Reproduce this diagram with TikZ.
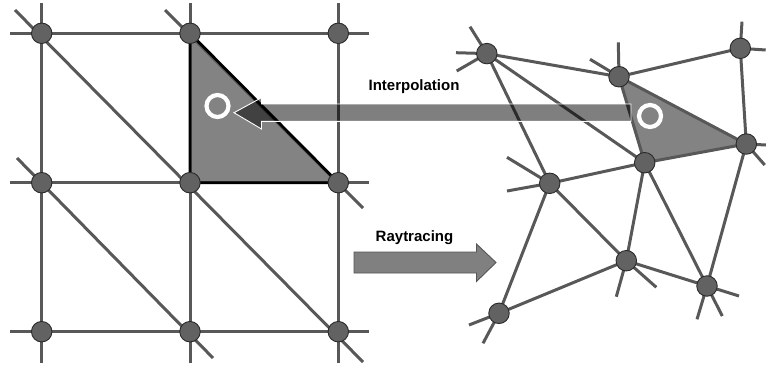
\documentclass[tikz,border=0pt]{standalone}
\usepackage{fontspec}
\setmainfont{Liberation Sans}
\begin{document}
\begin{tikzpicture}[x=1pt,y=-1pt,
  edge/.style={draw=meshgray,line width=3pt},
  vert/.style={circle,fill=nodegray,draw=nodeline,line width=0.9pt,minimum size=20.5pt,inner sep=0pt},
  ring/.style={draw=white,line width=4.2pt},
  lbl/.style={font=\bfseries\fontsize{15}{18}\selectfont,anchor=base,inner sep=0pt}]
\definecolor{meshgray}{HTML}{585858}
\definecolor{nodegray}{HTML}{626262}
\definecolor{nodeline}{HTML}{2A2A2A}
\definecolor{trigray}{HTML}{838383}
\definecolor{arrowgray}{HTML}{808080}
\definecolor{arrowline}{HTML}{555555}
\useasboundingbox (0,0) rectangle (766,367);

% ---------- regular grid ----------
\coordinate (p11) at (41.7,33.3);  \coordinate (p12) at (190,33.3);  \coordinate (p13) at (338.3,33.3);
\coordinate (p21) at (41.7,182.7); \coordinate (p22) at (190,182.7); \coordinate (p23) at (338.3,182.7);
\coordinate (p31) at (41.7,331.7); \coordinate (p32) at (190,331.7); \coordinate (p33) at (338.3,331.7);

\fill[trigray] (p12) -- (p22) -- (p23) -- cycle;

% horizontal and vertical grid lines
\foreach \y/\n in {33.3/1,182.7/2,331.7/3}{
  \coordinate (hl\n) at (10,\y); \coordinate (hr\n) at (369,\y);
  \draw[edge] (hl\n) -- (hr\n);}
\foreach \x/\n in {41.7/1,190/2,338.3/3}{
  \coordinate (vt\n) at (\x,3.3); \coordinate (vb\n) at (\x,363);
  \draw[edge] (vt\n) -- (vb\n);}
% diagonals
\coordinate (d1a) at (15,10);  \coordinate (d1b) at (363,362);
\coordinate (d2a) at (165,10); \coordinate (d2b) at (363,208);
\coordinate (d3a) at (17,158); \coordinate (d3b) at (213,358);
\draw[edge] (d1a) -- (d1b);
\draw[edge] (d2a) -- (d2b);
\draw[edge] (d3a) -- (d3b);

% highlighted cell
\draw[black,line width=2.8pt,line join=round] (p12) -- (p22) -- (p23) -- cycle;

\foreach \p in {p11,p12,p13,p21,p22,p23,p31,p32,p33}
  \node[vert] (n\p) at (\p) {};

\coordinate (lc) at (217.5,106);
\draw[ring] (lc) circle (11);

% ---------- irregular mesh ----------
\coordinate (A) at (486.8,53.6);
\coordinate (B) at (619,76.7);
\coordinate (C) at (740.3,48.3);
\coordinate (D) at (746.3,144);
\coordinate (E) at (644.7,162.7);
\coordinate (F) at (549.7,183.3);
\coordinate (G) at (626.3,260.7);
\coordinate (H) at (707,286);
\coordinate (I) at (499,313.3);

\fill[trigray] (B) -- (E) -- (D) -- cycle;

\foreach \a/\b in {A/B,B/C,C/D,A/E,A/F,B/E,B/D,E/D,F/E,F/G,F/I,E/G,E/H,D/H,G/H,G/I}
  \draw[edge] (\a) -- (\b);

% loose edge ends leaving the mesh
\coordinate (sA1) at (470,26.7);  \coordinate (sA2) at (456,52.7);  \coordinate (sA3) at (456.7,71);
\coordinate (sB1) at (618.3,42.3); \coordinate (sB2) at (590,59.3);
\coordinate (sC1) at (742,21.7);  \coordinate (sC2) at (765.7,50);
\coordinate (sD1) at (766,145);   \coordinate (sD2) at (764.7,165);
\coordinate (sF1) at (507,157.3); \coordinate (sF2) at (507,191);
\coordinate (sG1) at (616.3,296.7); \coordinate (sG2) at (656.3,287.3);
\coordinate (sH1) at (739,296);   \coordinate (sH2) at (697,319.3); \coordinate (sH3) at (722.3,316);
\coordinate (sI1) at (469,325);   \coordinate (sI2) at (483,343.3);
\foreach \a/\b in {A/sA1,A/sA2,A/sA3,B/sB1,B/sB2,C/sC1,C/sC2,D/sD1,D/sD2,F/sF1,F/sF2,G/sG1,G/sG2,H/sH1,H/sH2,H/sH3,I/sI1,I/sI2}
  \draw[edge] (\a) -- (\b);

\foreach \p in {A,B,C,D,E,F,G,H,I}
  \node[vert] (m\p) at (\p) {};

\coordinate (rc) at (650,116);
\draw[ring] (rc) circle (11);

% ---------- arrows and labels ----------
\draw[white,line width=0.9pt,fill=black,fill opacity=0.5]
  (631,104) -- (261.5,104) -- (261.5,97.7) -- (234,112.7) -- (261.5,129)
  -- (261.5,121.3) -- (631,121.3) -- cycle;
\node[lbl] (interp) at (414,90.7) {Interpolation};

\draw[arrowline,line width=0.9pt,fill=arrowgray]
  (354,252) -- (476.5,252) -- (476.5,244) -- (496,262.5) -- (476.5,281.5)
  -- (476.5,273) -- (354,273) -- cycle;
\node[lbl] (ray) at (414.5,241.7) {Raytracing};
\end{tikzpicture}
\end{document}
